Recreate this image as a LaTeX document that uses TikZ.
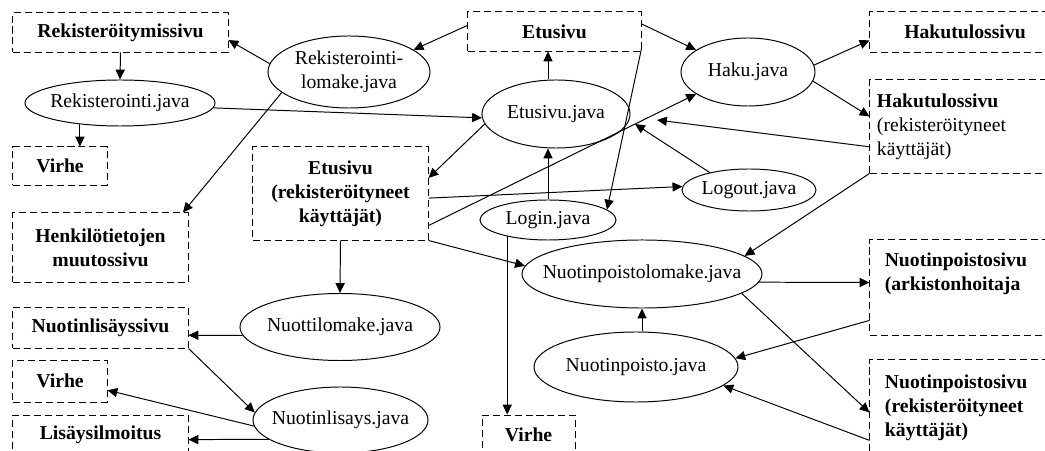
\documentclass[tikz,border=0pt]{standalone}
\usepackage{fontspec}
\setmainfont{Liberation Serif}
\usetikzlibrary{arrows.meta, shapes.geometric}

\begin{document}
\begin{tikzpicture}[x=0.025cm, y=-0.025cm,
    every node/.style={font=\fontsize{14}{17}\selectfont},
    pagebox/.style={
        rectangle, draw, dash pattern=on 5pt off 2.8pt, line width=0.7pt,
        inner sep=0pt, align=center,
        font=\fontsize{14}{17}\selectfont\bfseries,
    },
    javanode/.style={
        ellipse, draw, line width=0.7pt, inner sep=0pt,
        execute at begin node={\hbox to 0pt\bgroup\hss},
        execute at end node={\hss\egroup},
    },
    flow/.style={
        draw, line width=0.7pt,
        -{Triangle[length=7pt, width=6.5pt]},
    },
]
\path[use as bounding box, fill=white] (0,0) rectangle (1045,451);

% ── Registration ───────────────────────────────────────────────────────
\node[pagebox, minimum width=5.375cm, minimum height=0.975cm] (regpage) at (120.5,32.5) {Rekisteröitymissivu};
\node[javanode, minimum width=4.05cm, minimum height=1.8cm] (regform) at (349,72)
    {\begin{tabular}{@{}c@{}}Rekisterointi-\\lomake.java\end{tabular}};
\node[javanode, minimum width=4.75cm, minimum height=1.15cm] (regjava) at (120,103) {Rekisterointi.java};
\node[pagebox, minimum width=2.35cm, minimum height=0.95cm] (regerror) at (60,166) {Virhe};
\node[pagebox, minimum width=4.375cm, minimum height=1.725cm] (profilepage) at (100.5,247.5) {Henkilötietojen\\muutossivu};

% ── Front page and login ───────────────────────────────────────────────
\node[pagebox, minimum width=4.325cm, minimum height=0.975cm] (frontpage) at (554.5,31.5) {Etusivu};
\node[javanode, minimum width=3.7cm, minimum height=1.7cm] (frontjava) at (556,114) {Etusivu.java};
\node[pagebox, minimum width=4.375cm, minimum height=2.325cm] (memberpage) at (340.5,193.5)
    {Etusivu\\(rekisteröityneet\\käyttäjät)};
\node[javanode, minimum width=3.4cm, minimum height=1.0cm] (login) at (548,220) {Login.java};
\node[javanode, minimum width=3.35cm, minimum height=1.05cm] (logout) at (749,190) {Logout.java};
\node[pagebox, minimum width=2.325cm, minimum height=1.0cm] (loginerror) at (528.5,435) {Virhe};
\coordinate (hub) at (635,124);
\coordinate (hubright) at (657,120);

% ── Search ─────────────────────────────────────────────────────────────
\node[javanode, minimum width=3.35cm, minimum height=1.7cm] (search) at (748,72) {Haku.java};
\node[pagebox, minimum width=4.75cm, minimum height=1.0cm] (resultpage) at (965,32) {Hakutulossivu};
\node[pagebox, text width=4.4cm, inner xsep=0.175cm, align=left, minimum height=2.325cm,
    font=\fontsize{14}{17}\selectfont] (memberresults) at (965,126.5)
    {\textbf{Hakutulossivu}\\(rekisteröityneet\\käyttäjät)};

% ── Deleting notes ─────────────────────────────────────────────────────
\node[javanode, minimum width=6cm, minimum height=1.7cm] (deleteform) at (642,274) {Nuotinpoistolomake.java};
\node[javanode, minimum width=5.1cm, minimum height=1.75cm] (deletejava) at (636,367) {Nuotinpoisto.java};
\node[pagebox, minimum width=4.75cm, minimum height=2.375cm] (archivedelete) at (965,287.5) {};
\node[anchor=north west, align=left, inner sep=0pt, font=\fontsize{14}{17}\selectfont\bfseries]
    (archivedeletetext) at ([shift={(15,13)}]archivedelete.north west) {Nuotinpoistosivu\\(arkistonhoitaja};
\node[pagebox, text width=4cm, inner xsep=0.375cm, align=left, minimum height=2.375cm] (memberdelete) at (965,407.5)
    {Nuotinpoistosivu\\(rekisteröityneet\\käyttäjät)};

% ── Adding notes ───────────────────────────────────────────────────────
\node[javanode, minimum width=5cm, minimum height=1.675cm] (noteform) at (340,327) {Nuottilomake.java};
\node[pagebox, minimum width=4.375cm, minimum height=1.025cm] (addpage) at (100.5,327.5) {Nuotinlisäyssivu};
\node[javanode, minimum width=4.375cm, minimum height=1.65cm] (addjava) at (340.5,420) {Nuotinlisays.java};
\node[pagebox, minimum width=2.35cm, minimum height=1.05cm] (adderror) at (60,381) {Virhe};
\node[pagebox, minimum width=4.375cm, minimum height=1.0cm] (addnotice) at (100.5,435) {Lisäysilmoitus};

% ── Links ──────────────────────────────────────────────────────────────
\draw[flow] (regform.174) -- (regpage.-4);
\draw[flow] (frontpage.176) -- (regform.19);
\draw[flow] (regpage.south) -- (regjava.north);
\draw[flow] (regjava.208) -- (regjava.208 |- regerror.north);
\draw[flow] (regjava.-3) -- (frontjava.183);
\draw[flow] (regform.197) -- (profilepage.23);
\draw[flow] (frontjava.north -| login) -- (frontpage.south -| login);
\draw[flow] (frontjava.188) -- (memberpage.10);
\draw[flow] (login.north) -- (frontjava.south -| login.north);
\draw[flow] (memberpage.-3) -- (logout.177);
\draw[flow] (memberpage.-20) -- (search.203);
\draw[flow] (frontpage.-11) -- (login.10);
\draw[flow] (frontpage.5) -- (search.157);
\draw[flow] (search.6) -- (resultpage.185);
\draw[flow] (search.-8) -- (memberresults.174);
\draw[flow] (memberresults.192) -- (hubright);
\draw[flow] (logout.156) -- (hub);
\draw[flow] (memberpage.south east) -- (deleteform.176);
\draw[flow] (memberpage.south) -- (noteform.north);
\draw[flow] (login.202) -- (login.202 |- loginerror.north);
\draw[flow] (memberresults.south west) -- (deleteform.10);
\draw[flow] (deleteform.-4) -- (archivedelete.177);
\draw[flow] (deleteform.south |- deletejava.north) -- (deleteform.south);
\draw[flow] (archivedelete.199) -- (deletejava.5);
\draw[flow] (deleteform.-11) -- (memberdelete.183);
\draw[flow] (memberdelete.199) -- (deletejava.-12);
\draw[flow] (noteform.185) -- (addpage.-5);
\draw[flow] (addpage.south east) -- (addjava.175);
\draw[flow] (addjava.184) -- (adderror.-11);
\draw[flow] (addjava.195) -- (addnotice.-3);

\end{tikzpicture}
\end{document}
